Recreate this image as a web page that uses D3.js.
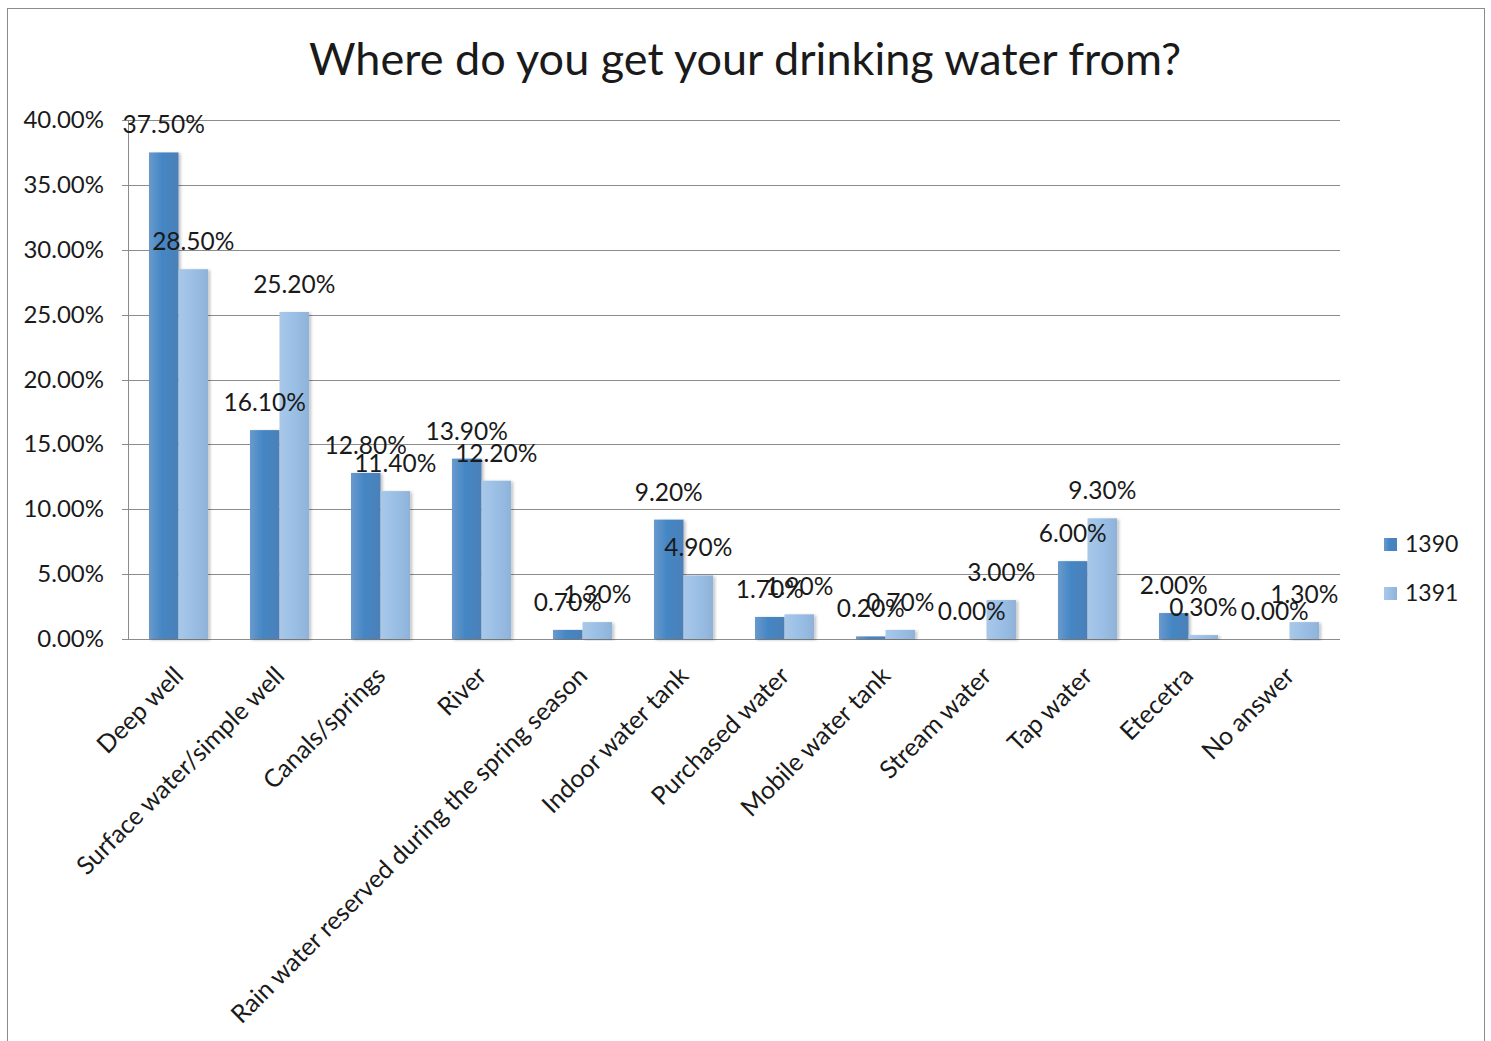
<!DOCTYPE html>
<html><head><meta charset="utf-8">
<script src="https://cdn.jsdelivr.net/npm/d3@7"></script>
<style>body{margin:0;background:#fff}svg{display:block}text{font-family:Lato,"Open Sans",sans-serif;fill:#1a1a1a}</style>
</head><body>
<script>
const categories = ["Deep well","Surface water/simple well","Canals/springs","River","Rain water reserved during the spring season","Indoor water tank","Purchased water","Mobile water tank","Stream water","Tap water","Etecetra","No answer"];
const series = ["1390","1391"];
const values1390 = [37.5,16.1,12.8,13.9,0.7,9.2,1.7,0.2,0.0,6.0,2.0,0.0];
const values1391 = [28.5,25.2,11.4,12.2,1.3,4.9,1.9,0.7,3.0,9.3,0.3,1.3];
const yTicks = [0,5,10,15,20,25,30,35,40];
const title = "Where do you get your drinking water from?";

const W=1491,H=1041;
const svg=d3.select("body").append("svg").attr("width",W).attr("height",H);
const defs=svg.append("defs");
function grad(id,stops){const g=defs.append("linearGradient").attr("id",id).attr("x1","0").attr("x2","1").attr("y1","0").attr("y2","0");
 stops.forEach(s=>g.append("stop").attr("offset",s[0]).attr("stop-color",s[1]));}
grad("g1390",[[0,"#6a9acd"],[0.45,"#4386c4"],[1,"#4c80b8"]]);
grad("g1391",[[0,"#a9c8e8"],[0.45,"#9bc0e6"],[1,"#8fb2d8"]]);
const f=defs.append("filter").attr("id","sh").attr("x","-20%").attr("y","-5%").attr("width","150%").attr("height","115%");
f.append("feDropShadow").attr("dx",2).attr("dy",1).attr("stdDeviation",1.5).attr("flood-color","#000").attr("flood-opacity",0.25);

svg.append("rect").attr("x",7.5).attr("y",8.5).attr("width",1477).attr("height",1040).attr("fill","none").attr("stroke","#8c8c8c").attr("stroke-width",1);

svg.append("text").attr("x",745).attr("y",75).attr("text-anchor","middle").style("font-size","45px").text(title);

const x=d3.scaleBand().domain(categories).range([128,1340]);
const xs=d3.scaleBand().domain(series).range([0,x.bandwidth()]).paddingOuter(0.71);
const y=d3.scaleLinear().domain([0,40]).range([639,120]);

const grid=svg.append("g");
grid.selectAll("line").data(yTicks).join("line").attr("x1",122).attr("x2",1340)
 .attr("y1",d=>Math.round(y(d))+0.5).attr("y2",d=>Math.round(y(d))+0.5).attr("stroke","#8c8c8c");
svg.append("line").attr("x1",128.5).attr("x2",128.5).attr("y1",120).attr("y2",639).attr("stroke","#8c8c8c");
svg.append("g").selectAll("text").data(yTicks).join("text").attr("x",104).attr("y",d=>y(d)+8)
 .attr("text-anchor","end").style("font-size","24px").text(d=>d.toFixed(2)+"%");

const data=[];
categories.forEach((c,i)=>{data.push({c,s:"1390",v:values1390[i]});data.push({c,s:"1391",v:values1391[i]});});
svg.append("g").selectAll("rect").data(data.filter(d=>d.v>0)).join("rect")
 .attr("x",d=>x(d.c)+xs(d.s)).attr("width",xs.bandwidth())
 .attr("y",d=>y(d.v)).attr("height",d=>y(0)-y(d.v))
 .attr("fill",d=>`url(#g${d.s})`).attr("filter","url(#sh)");
svg.append("g").selectAll("text").data(data).join("text")
 .attr("x",d=>x(d.c)+xs(d.s)+xs.bandwidth()/2).attr("y",d=>y(d.v)-19)
 .attr("text-anchor","middle").style("font-size","24.5px").text(d=>d.v.toFixed(2)+"%");

svg.append("g").selectAll("text").data(categories).join("text")
 .attr("transform",d=>`translate(${x(d)+x.bandwidth()/2-6},${665}) rotate(-45)`)
 .attr("text-anchor","end").attr("dy","0.7em").style("font-size","25px").text(d=>d);

const lg=svg.append("g");
series.forEach((s,i)=>{
 lg.append("rect").attr("x",1384).attr("y",538+i*49).attr("width",13).attr("height",13).attr("fill",`url(#g${s})`);
 lg.append("text").attr("x",1405).attr("y",552+i*49).style("font-size","23px").text(s);
});
</script>
</body></html>
